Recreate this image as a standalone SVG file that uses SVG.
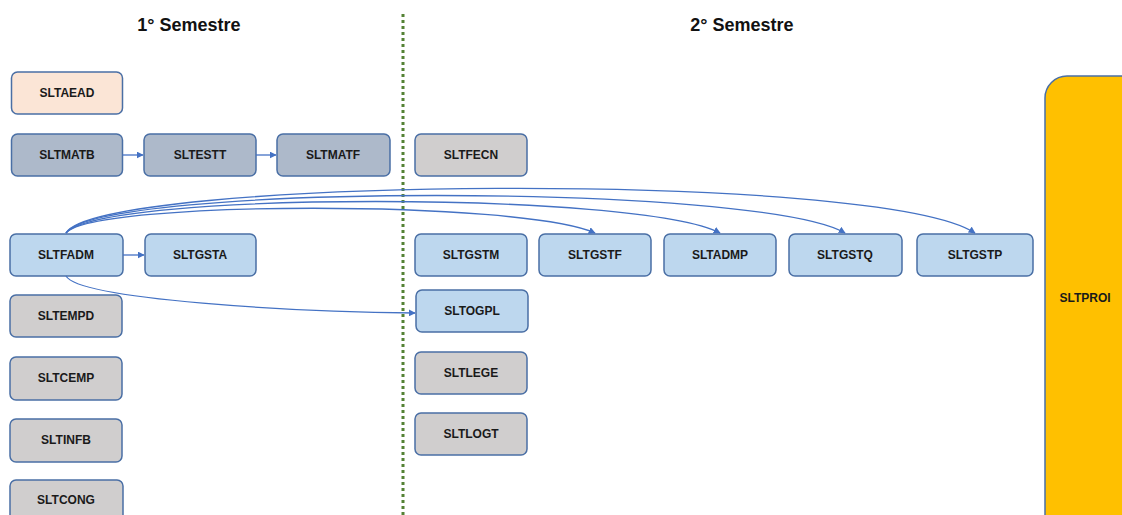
<svg xmlns="http://www.w3.org/2000/svg" width="1122" height="515" viewBox="0 0 1122 515">
<style>
.n rect{stroke:#4a6fa5;stroke-width:1.5}
.n text{font-family:"Liberation Sans",Arial,sans-serif;font-weight:bold;font-size:12px;fill:#1a1a1a;text-anchor:middle;dominant-baseline:central}
.peach rect{fill:#fbe5d6}
.slate rect{fill:#adb9ca}
.blue rect{fill:#bdd7ee}
.grey rect{fill:#d0cece}
.gold rect{fill:#ffc000}
.h{font-family:"Liberation Sans",Arial,sans-serif;font-weight:bold;font-size:18px;fill:#111;text-anchor:middle}
#connectors path{fill:none;stroke:#4472c4;stroke-width:1.3;marker-end:url(#ah)}
</style>
<defs>
<marker id="ah" viewBox="0 0 10 10" refX="9" refY="5" markerWidth="7" markerHeight="7" markerUnits="userSpaceOnUse" orient="auto">
<path d="M0,0 L10,5 L0,10 z" fill="#4472c4"/>
</marker>
</defs>
<rect width="1122" height="515" fill="#fff"/>
<text class="h" x="189" y="31">1° Semestre</text>
<text class="h" x="742" y="31">2° Semestre</text>
<line x1="403" y1="14" x2="403" y2="515" stroke="#548235" stroke-width="3" stroke-dasharray="3 3"/>

<g id="SLTPROI" class="n gold"><rect x="1045" y="76" width="110" height="470" rx="22"/><text x="1085" y="298">SLTPROI</text></g>

<g id="SLTAEAD" class="n peach"><rect x="11.5" y="72" width="111" height="42" rx="6"/><text x="67" y="93">SLTAEAD</text></g>
<g id="SLTMATB" class="n slate"><rect x="11.5" y="134" width="111" height="42" rx="6"/><text x="67" y="155">SLTMATB</text></g>
<g id="SLTESTT" class="n slate"><rect x="144" y="134" width="112" height="42" rx="6"/><text x="200" y="155">SLTESTT</text></g>
<g id="SLTMATF" class="n slate"><rect x="277" y="134" width="113" height="42" rx="6"/><text x="333" y="155">SLTMATF</text></g>
<g id="SLTFECN" class="n grey"><rect x="415" y="134" width="112" height="42" rx="6"/><text x="471" y="155">SLTFECN</text></g>

<g id="SLTFADM" class="n blue"><rect x="10" y="234" width="113" height="42" rx="6"/><text x="66" y="255">SLTFADM</text></g>
<g id="SLTGSTA" class="n blue"><rect x="145" y="234" width="111" height="42" rx="6"/><text x="200" y="255">SLTGSTA</text></g>
<g id="SLTGSTM" class="n blue"><rect x="415" y="234" width="112" height="42" rx="6"/><text x="471" y="255">SLTGSTM</text></g>
<g id="SLTGSTF" class="n blue"><rect x="539" y="234" width="112" height="42" rx="6"/><text x="595" y="255">SLTGSTF</text></g>
<g id="SLTADMP" class="n blue"><rect x="664" y="234" width="112" height="42" rx="6"/><text x="720" y="255">SLTADMP</text></g>
<g id="SLTGSTQ" class="n blue"><rect x="789" y="234" width="113" height="42" rx="6"/><text x="845" y="255">SLTGSTQ</text></g>
<g id="SLTGSTP" class="n blue"><rect x="917" y="234" width="116" height="42" rx="6"/><text x="975" y="255">SLTGSTP</text></g>
<g id="SLTOGPL" class="n blue"><rect x="416" y="290" width="112" height="42" rx="6"/><text x="472" y="311">SLTOGPL</text></g>

<g id="SLTEMPD" class="n grey"><rect x="10" y="295" width="112" height="42" rx="6"/><text x="66" y="316">SLTEMPD</text></g>
<g id="SLTCEMP" class="n grey"><rect x="10" y="357" width="112" height="43" rx="6"/><text x="66" y="378">SLTCEMP</text></g>
<g id="SLTINFB" class="n grey"><rect x="10" y="419" width="112" height="43" rx="6"/><text x="66" y="440">SLTINFB</text></g>
<g id="SLTCONG" class="n grey"><rect x="10" y="480" width="113" height="43" rx="6"/><text x="66" y="500">SLTCONG</text></g>
<g id="SLTLEGE" class="n grey"><rect x="415" y="352" width="112" height="42" rx="6"/><text x="471" y="373">SLTLEGE</text></g>
<g id="SLTLOGT" class="n grey"><rect x="415" y="413" width="112" height="42" rx="6"/><text x="471" y="434">SLTLOGT</text></g>

<g id="connectors">
<path d="M122.5,155 L143,155"/>
<path d="M256,155 L276,155"/>
<path d="M123,255 L144,255"/>
<path d="M66,233 C95,200 520,200 595,233"/>
<path d="M66,233 C100,191 640,191 720,233"/>
<path d="M66,233 C100,183 760,183 845,233"/>
<path d="M66,233 C100,177 880,170 975,233"/>
<path d="M66,276 C80,300 300,312 415,313"/>
</g>
</svg>
